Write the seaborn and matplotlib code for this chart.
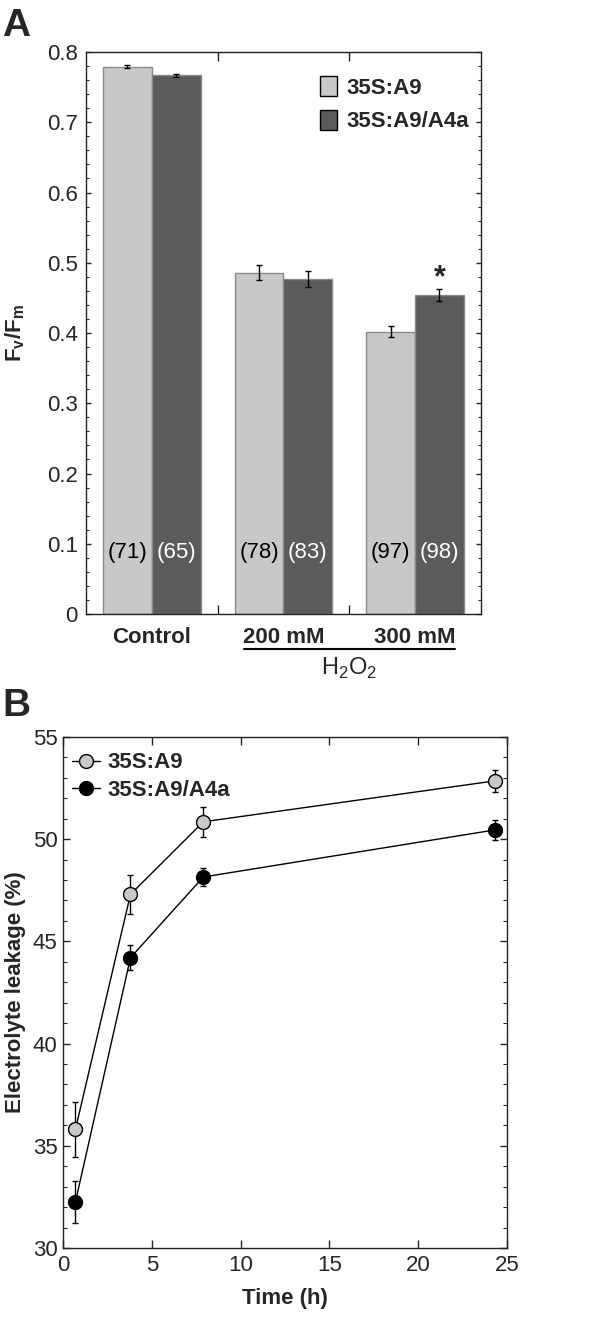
import numpy as np
import pandas as pd
import seaborn as sns
import matplotlib
matplotlib.use("Agg")
import matplotlib.pyplot as plt
from matplotlib.patches import Patch
from matplotlib.lines import Line2D
from matplotlib.ticker import MultipleLocator, FixedLocator, NullLocator, FuncFormatter

# ---- data, panel A (Fv/Fm) ----
treatments = ["Control", "200 mM", "300 mM"]
lines = ["35S:A9", "35S:A9/A4a"]
fvfm_a9 = [0.779, 0.486, 0.402]
fvfm_a4a = [0.767, 0.477, 0.454]
err_a9 = [0.002, 0.011, 0.008]
err_a4a = [0.002, 0.012, 0.009]
n_a9 = ["(71)", "(78)", "(97)"]
n_a4a = ["(65)", "(83)", "(98)"]

# ---- data, panel B (electrolyte leakage) ----
time_h = [0.7, 3.8, 7.9, 24.3]
leak_a9 = [35.8, 47.3, 50.85, 52.85]
leak_a4a = [32.25, 44.2, 48.15, 50.45]
leak_err_a9 = [1.35, 0.95, 0.72, 0.53]
leak_err_a4a = [1.05, 0.6, 0.45, 0.5]

light = "#c8c8c8"
dark = "#5b5b5b"

sns.set_style("ticks")
plt.rcParams["font.family"] = ["Liberation Sans", "DejaVu Sans"]
plt.rcParams["mathtext.fontset"] = "custom"
plt.rcParams["mathtext.rm"] = "Liberation Sans"
plt.rcParams["mathtext.bf"] = "Liberation Sans:bold"
plt.rcParams["axes.edgecolor"] = "#222222"
plt.rcParams["axes.linewidth"] = 1.0
FS = 16

fig = plt.figure(figsize=(6, 13.21), dpi=100)
axA = fig.add_axes([0.1433, 0.5352, 0.6583, 0.4254])
axB = fig.add_axes([0.105, 0.0553, 0.74, 0.3868])

# ---------------- panel A ----------------
dfA = pd.DataFrame({
    "treatment": treatments * 2,
    "line": [lines[0]] * 3 + [lines[1]] * 3,
    "fvfm": fvfm_a9 + fvfm_a4a,
})
sns.barplot(data=dfA, x="treatment", y="fvfm", hue="line", order=treatments,
            hue_order=lines, palette=[light, dark], width=0.74, gap=0,
            edgecolor="#8a8a8a", linewidth=1, errorbar=None, legend=False,
            saturation=1, ax=axA)

for cont, errs, labels, tcol in zip(axA.containers, [err_a9, err_a4a],
                                    [n_a9, n_a4a], ["black", "white"]):
    xs = [b.get_x() + b.get_width() / 2 for b in cont]
    ys = [b.get_height() for b in cont]
    axA.errorbar(xs, ys, yerr=errs, fmt="none", ecolor="black",
                 elinewidth=1, capsize=2, capthick=1)
    for x, lab in zip(xs, labels):
        axA.text(x, 0.087, lab, ha="center", va="center", color=tcol,
                 fontsize=FS)

# significance star over the 300 mM A4a bar
star_bar = axA.containers[1][2]
axA.text(star_bar.get_x() + star_bar.get_width() / 2,
         star_bar.get_height() + err_a4a[2] - 0.006, "*",
         ha="center", va="bottom", fontsize=22, fontweight="bold")

axA.set_xlim(-0.5, 2.5)
axA.set_ylim(0, 0.8)
axA.yaxis.set_major_locator(FixedLocator(np.round(np.arange(0, 0.81, 0.1), 1)))
axA.yaxis.set_minor_locator(MultipleLocator(0.02))
axA.yaxis.set_major_formatter(FuncFormatter(lambda v, p: "0" if v == 0 else f"{v:.1f}"))
axA.xaxis.set_minor_locator(FixedLocator([0.5, 1.5]))
axA.tick_params(axis="x", which="major", length=0, pad=9)
axA.tick_params(axis="x", which="minor", direction="in", length=6.5,
                top=True, bottom=True, width=1)
axA.tick_params(axis="y", which="major", direction="in", length=3.5,
                left=True, right=True, labelsize=FS, pad=6, width=1)
axA.tick_params(axis="y", which="minor", direction="in", length=2,
                left=True, right=True, width=0.8)
for lab in axA.get_xticklabels():
    lab.set_fontweight("bold")
    lab.set_fontsize(FS)
axA.set_xlabel("")
axA.set_ylabel(r"$\mathbf{F_v/F_m}$", fontsize=FS, labelpad=14)
for s in axA.spines.values():
    s.set_visible(True)

# H2O2 grouping line + label under the two stress treatments
trans = axA.get_xaxis_transform()
axA.plot([0.70, 2.30], [-0.062, -0.062], color="black", lw=1.5,
         transform=trans, clip_on=False)
axA.text(1.5, -0.097, r"H$_2$O$_2$", transform=trans, ha="center",
         va="center", fontsize=FS + 1)

handlesA = [Patch(facecolor=light, edgecolor="black", linewidth=1),
            Patch(facecolor=dark, edgecolor="black", linewidth=1)]
legA = axA.legend(handlesA, lines, loc="upper left",
                  bbox_to_anchor=(0.593, 0.957), frameon=False,
                  handlelength=0.75, handleheight=1.0, handletextpad=0.45,
                  labelspacing=0.5, borderaxespad=0, borderpad=0,
                  prop={"size": FS, "weight": "bold"})

# ---------------- panel B ----------------
dfB = pd.DataFrame({"time": time_h * 2,
                    "leak": leak_a9 + leak_a4a,
                    "line": [lines[0]] * 4 + [lines[1]] * 4})
for ln, errs, fc in zip(lines, [leak_err_a9, leak_err_a4a], [light, "black"]):
    sub = dfB[dfB["line"] == ln]
    axB.errorbar(sub["time"], sub["leak"], yerr=errs, fmt="none",
                 ecolor="black", elinewidth=1, capsize=2.5, capthick=1,
                 zorder=2)
    sns.lineplot(data=sub, x="time", y="leak", color="black", lw=1,
                 marker="o", markersize=10, markerfacecolor=fc,
                 markeredgecolor="black", markeredgewidth=1, ax=axB,
                 zorder=3, legend=False)

axB.set_xlim(0, 25)
axB.set_ylim(30, 55)
axB.xaxis.set_major_locator(MultipleLocator(5))
axB.xaxis.set_minor_locator(NullLocator())
axB.yaxis.set_major_locator(MultipleLocator(5))
axB.yaxis.set_minor_locator(MultipleLocator(1))
axB.tick_params(axis="x", which="major", direction="in", length=6,
                top=True, bottom=True, labelsize=FS, pad=5, width=1)
axB.tick_params(axis="y", which="major", direction="in", length=5,
                left=True, right=True, labelsize=FS, pad=4, width=1)
axB.tick_params(axis="y", which="minor", direction="in", length=3,
                left=True, right=True, width=0.8)
axB.set_xlabel("Time (h)", fontsize=FS, fontweight="bold", labelpad=9)
axB.set_ylabel("Electrolyte leakage (%)", fontsize=FS, fontweight="bold",
               labelpad=5)
for s in axB.spines.values():
    s.set_visible(True)

handlesB = [Line2D([], [], color="black", lw=1, marker="o", markersize=10,
                   markerfacecolor=fc, markeredgecolor="black")
            for fc in [light, "black"]]
axB.legend(handlesB, lines, loc="upper left", bbox_to_anchor=(0.02, 0.97),
           frameon=False, handlelength=1.25, handletextpad=0.35,
           labelspacing=0.3, borderaxespad=0, borderpad=0,
           prop={"size": FS, "weight": "bold"})

# panel letters
fig.text(0.004, 0.994, "A", fontsize=28, fontweight="bold", va="top")
fig.text(0.004, 0.479, "B", fontsize=28, fontweight="bold", va="top")

fig.savefig("out.png", dpi=100)
